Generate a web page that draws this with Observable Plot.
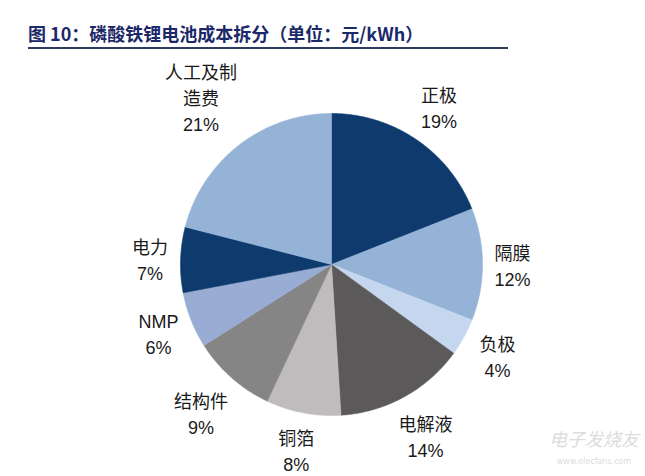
<!DOCTYPE html>
<html>
<head>
<meta charset="utf-8">
<script src="https://cdn.jsdelivr.net/npm/d3@7"></script>
<script src="https://cdn.jsdelivr.net/npm/@observablehq/plot@0.6"></script>
<style>
  html, body { margin: 0; padding: 0; background: #fff; }
  #wrap { position: relative; width: 645px; height: 476px; overflow: hidden; }
  #head { position: relative; height: 52px; }
  #title { position: absolute; left: 28px; top: 21px; font: bold 18px "Noto Sans CJK SC", sans-serif; line-height: 24px; color: #1b2869; white-space: nowrap; }
  #rule { position: absolute; left: 28px; top: 47px; width: 480px; height: 2px; background: #2f3a5f; }
  #wm { position: absolute; left: 546px; top: 424px; width: 96px; color: #dcdcdc; font-family: "Noto Sans CJK SC", sans-serif; text-align: center; }
  #wm .a { font-size: 18px; line-height: 28px; height: 28px; font-style: italic; }
  #wm .b { margin-top: 5px; font-size: 8px; line-height: 10px; height: 10px; font-family: "DejaVu Sans", sans-serif; }
  svg { display: block; }
</style>
</head>
<body>
<div id="wrap">
  <div id="head"><div id="title">图 10：磷酸铁锂电池成本拆分（单位：元/kWh）</div><div id="rule"></div></div>
  <div id="chart"></div>
  <div id="wm"><div class="a">电子发烧友</div><div class="b">www.elecfans.com</div></div>
</div>
<script>
// ---- data ----
const categories = ["正极", "隔膜", "负极", "电解液", "铜箔", "结构件", "NMP", "电力", "人工及制造费"];
const labelLines = ["正极", "隔膜", "负极", "电解液", "铜箔", "结构件", "NMP", "电力", "人工及制\n造费"];
const shares = [19, 12, 4, 14, 8, 9, 6, 7, 21];
const colors = ["#0e3a6e", "#95b3d7", "#c5d7ee", "#5c595b", "#c0bcbe", "#858585", "#98acd4", "#0e3a6e", "#95b3d7"];

// ---- layout ----
const W = 645, H = 424;
const cx = 331, cy = 212, R = 151;
const fs = 18, lh = 1.45, gap = 12;

const total = d3.sum(shares);
let acc = 0;
const slices = categories.map((name, i) => {
  const a0 = acc / total * 2 * Math.PI;
  acc += shares[i];
  const a1 = acc / total * 2 * Math.PI;
  return {name, i, a0, a1, mid: (a0 + a1) / 2};
});

const pts = [];
for (const s of slices) {
  pts.push({name: s.name, x: 0, y: 0});
  const n = Math.max(2, Math.ceil((s.a1 - s.a0) / (Math.PI / 360)));
  for (let k = 0; k <= n; k++) {
    const a = s.a0 + (s.a1 - s.a0) * k / n;
    pts.push({name: s.name, x: Math.sin(a), y: Math.cos(a)});
  }
  pts.push({name: s.name, x: 0, y: 0});
}

function lineWidth(str) {
  let w = 0;
  for (const ch of str) w += /[\u3000-\u9fff\uff00-\uffef]/.test(ch) ? fs : fs * 0.6;
  return w;
}

const labels = slices.map(s => {
  const text = labelLines[s.i] + "\n" + shares[s.i] + "%";
  const lines = text.split("\n");
  const w = d3.max(lines, lineWidth);
  const h = (lines.length - 1) * fs * lh + fs;
  const sx = Math.sin(s.mid), sy = Math.cos(s.mid);
  const support = Math.abs(sx) * w / 2 + Math.abs(sy) * h / 2;
  const d = (R + gap + support) / R;
  return {text, lx: sx * d, ly: sy * d};
});

const chart = Plot.plot({
  width: W,
  height: H,
  margin: 0,
  x: {domain: [-1, 1], range: [cx - R, cx + R], axis: null},
  y: {domain: [-1, 1], range: [cy + R, cy - R], axis: null},
  color: {domain: categories, range: colors},
  style: {background: "#fff"},
  marks: [
    Plot.line(pts, {x: "x", y: "y", z: "name", fill: "name", stroke: "name", strokeWidth: 0.6, curve: "linear"}),
    Plot.text(labels, {
      x: "lx", y: "ly", text: "text",
      fontSize: fs, lineHeight: lh, fill: "#1a1a1a",
      fontFamily: "'Liberation Sans', 'Noto Sans CJK SC', sans-serif"
    })
  ]
});
document.getElementById("chart").appendChild(chart);
</script>
</body>
</html>
